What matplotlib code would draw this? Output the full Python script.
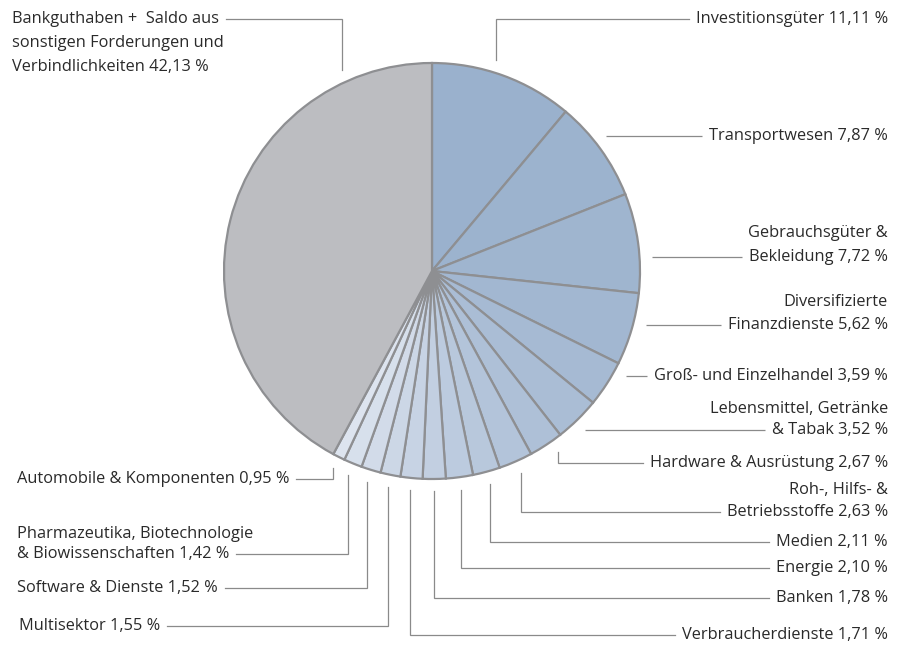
import numpy as np
import matplotlib
matplotlib.use("Agg")
import matplotlib.pyplot as plt
from matplotlib.colors import to_rgb

plt.rcParams['font.family'] = ['Open Sans', 'DejaVu Sans']

# data (clockwise from 12 o'clock)
sectors = [
    "Investitionsgüter", "Transportwesen", "Gebrauchsgüter &\nBekleidung",
    "Diversifizierte\nFinanzdienste", "Groß- und Einzelhandel",
    "Lebensmittel, Getränke\n& Tabak", "Hardware & Ausrüstung",
    "Roh-, Hilfs- &\nBetriebsstoffe", "Medien", "Energie", "Banken",
    "Verbraucherdienste", "Multisektor", "Software & Dienste",
    "Pharmazeutika, Biotechnologie\n& Biowissenschaften",
    "Automobile & Komponenten",
    "Bankguthaben +  Saldo aus\nsonstigen Forderungen und\nVerbindlichkeiten",
]
shares = [11.11, 7.87, 7.72, 5.62, 3.59, 3.52, 2.67, 2.63, 2.11, 2.10,
          1.78, 1.71, 1.55, 1.52, 1.42, 0.95, 42.13]

# label layout in pixel coords (y from top):
# side, text x, first line y, line step, line the leader attaches to, route, anchor angle override
layout = [
    ("R", 888, 19, 0, 0, "v", 17),
    ("R", 888, 136, 0, 0, "h", None),
    ("R", 888, 233, 24, 1, "h", None),
    ("R", 888, 302, 23, 1, "h", None),
    ("R", 888, 376, 0, 0, "h", None),
    ("R", 888, 409, 21, 1, "h", None),
    ("R", 888, 463, 0, 0, "v", 145),
    ("R", 888, 490, 22, 1, "v", None),
    ("R", 888, 542, 0, 0, "v", None),
    ("R", 888, 568, 0, 0, "v", None),
    ("R", 888, 598, 0, 0, "v", None),
    ("R", 888, 635, 0, 0, "v", None),
    ("L", 19, 626, 0, 0, "v", None),
    ("L", 17, 588, 0, 0, "v", None),
    ("L", 17, 534, 20, 1, "v", None),
    ("L", 17, 479, 0, 0, "v", None),
    ("L", 12, 19, 24, 0, "v", 336),
]

W, H = 903, 648
CX, CY, R = 432, 271, 208
LEADER_R = R * 1.06
EDGE = "#8e8f92"
LINE = "#8a8a8a"
TEXT = "#2a2a2a"

# blue gradient for sectors, grey for cash
c0, c1 = np.array(to_rgb("#9ab1cd")), np.array(to_rgb("#dde4ef"))
n = len(shares) - 1
colors = [tuple(c0 + (c1 - c0) * (i / (n - 1)) ** 1.3) for i in range(n)] + ["#bcbdc1"]

fig = plt.figure(figsize=(W / 100, H / 100), dpi=100)
ax = fig.add_axes([0, 0, 1, 1])
ax.pie(shares, colors=colors, startangle=90, counterclock=False,
       center=(CX, H - CY), radius=R,
       wedgeprops=dict(edgecolor=EDGE, linewidth=1.6))
ax.set_xlim(0, W)
ax.set_ylim(0, H)
ax.set_aspect("equal")
ax.axis("off")

def fmt(v):
    return f"{v:.2f}".replace(".", ",") + " %"

total = sum(shares)
cum = np.cumsum([0] + shares[:-1])

texts = []
for i, (name, v) in enumerate(zip(sectors, shares)):
    side, tx, ty, step, att, route, ang = layout[i]
    lines = (name + " " + fmt(v)).split("\n")
    objs = []
    for k, ln in enumerate(lines):
        t = ax.text(tx, H - (ty + k * step), ln, ha="right" if side == "R" else "left",
                    va="center", fontsize=11.8, color=TEXT)
        objs.append(t)
    texts.append(objs)

fig.canvas.draw()
rend = fig.canvas.get_renderer()

for i, v in enumerate(shares):
    side, tx, ty, step, att, route, ang = layout[i]
    ly = ty + att * step
    bb = texts[i][att].get_window_extent(rend)
    if side == "R":
        xend = bb.x0 - 7
    else:
        xend = bb.x1 + 7
    if route == "h":
        dy = ly - CY
        x0 = CX + np.sqrt(LEADER_R ** 2 - dy ** 2)
        ax.plot([x0, xend], [H - ly, H - ly], color=LINE, lw=0.9, solid_capstyle="butt")
    else:
        a = ang if ang is not None else 360 * (cum[i] + v / 2) / total
        a = np.radians(a)
        x0 = CX + LEADER_R * np.sin(a)
        y0 = CY - LEADER_R * np.cos(a)
        ax.plot([x0, x0, xend], [H - y0, H - ly, H - ly], color=LINE, lw=0.9,
                solid_joinstyle="miter")

fig.savefig("out.png", dpi=100)
